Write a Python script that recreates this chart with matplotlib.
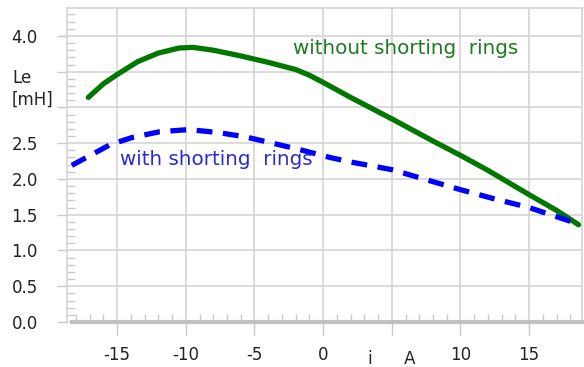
import numpy as np
import matplotlib.pyplot as plt
from matplotlib.ticker import MultipleLocator, FixedLocator

plt.rcParams['font.family'] = ['DejaVu Sans']

# current i [A] and inductance Le [mH]
i_without = [-17.1, -16, -15, -13.5, -12, -10.5, -9.5, -8, -6, -4, -2, -1, 0,
             2, 5, 8, 10, 12, 15, 17, 18.6]
le_without = [3.14, 3.33, 3.46, 3.64, 3.76, 3.83, 3.84, 3.80, 3.72, 3.63, 3.53,
              3.45, 3.35, 3.14, 2.84, 2.53, 2.33, 2.12, 1.78, 1.56, 1.36]

i_with = [-18.3, -15.5, -13.9, -11.9, -9.8, -7.7, -5.7, -3.9, -1.7, 0.5, 2.2,
          5, 7.5, 10, 12.5, 15, 18.6]
le_with = [2.19, 2.48, 2.58, 2.66, 2.69, 2.65, 2.59, 2.51, 2.41, 2.30, 2.23,
           2.13, 1.99, 1.85, 1.72, 1.60, 1.37]

x_ticks = [-15, -10, -5, 0, 5, 10, 15]
x_labels = ['-15', '-10', '-5', '0', '', '10', '15']
y_ticks = [0.0, 0.5, 1.0, 1.5, 2.0, 2.5, 3.0, 3.5, 4.0]
y_labels = ['0.0', '0.5', '1.0', '1.5', '2.0', '2.5', '', '', '4.0']

grey = '#c8c8c8'

fig = plt.figure(figsize=(5.84, 3.67), dpi=100)
ax = fig.add_axes([67/584, 1-322/367, 515/584, 314/367])

ax.plot(i_without, le_without, color='#007800', lw=3.8, solid_capstyle='round',
        solid_joinstyle='round', zorder=3)
ax.plot(i_with, le_with, color='#0000ff', lw=3.8, dashes=(3.0, 2.0), zorder=3)

ax.text(-2.2, 3.83, 'without shorting  rings', color='#1e7a1e', fontsize=14.3, va='center')
ax.text(-14.8, 2.27, 'with shorting  rings', color='#2a2ad0', fontsize=14.3, va='center')

ax.set_xlim(-18.65, 18.85)
ax.set_ylim(0, 4.39)

ax.set_xticks(x_ticks)
ax.set_xticklabels(x_labels)
ax.set_yticks(y_ticks)
ax.set_yticklabels(y_labels)
ax.xaxis.set_minor_locator(FixedLocator(np.arange(-18, 19, 1)))
ax.yaxis.set_minor_locator(MultipleLocator(0.1))

ax.tick_params(axis='x', which='major', direction='out', length=9, width=1, color=grey,
               labelsize=12, pad=8, labelcolor='#222222')
ax.tick_params(axis='x', which='minor', direction='in', length=6, width=1, color=grey)
ax.tick_params(axis='y', which='major', direction='out', length=7, width=1, color=grey,
               labelsize=12, pad=14, labelcolor='#222222')
ax.tick_params(axis='y', which='minor', direction='in', length=6, width=1, color=grey)

ax.grid(True, which='major', color='#d4d4d4', lw=1.2)
ax.set_axisbelow(True)

for s in ['top', 'right', 'left']:
    ax.spines[s].set_color('#d4d4d4')
    ax.spines[s].set_linewidth(1.2)
ax.spines['bottom'].set_color('#c0c0c0')
ax.spines['bottom'].set_linewidth(3)
ax.spines['bottom'].set_bounds(-18.3, 18.85)

fig.text(12/584, 1-89/367, 'Le\n[mH]', fontsize=12, ha='left', va='center',
         linespacing=1.25, color='#222222')
ax.text(5, -0.52, 'i      A', fontsize=12, ha='center', va='center', color='#222222')

fig.savefig('out.png', dpi=100)
